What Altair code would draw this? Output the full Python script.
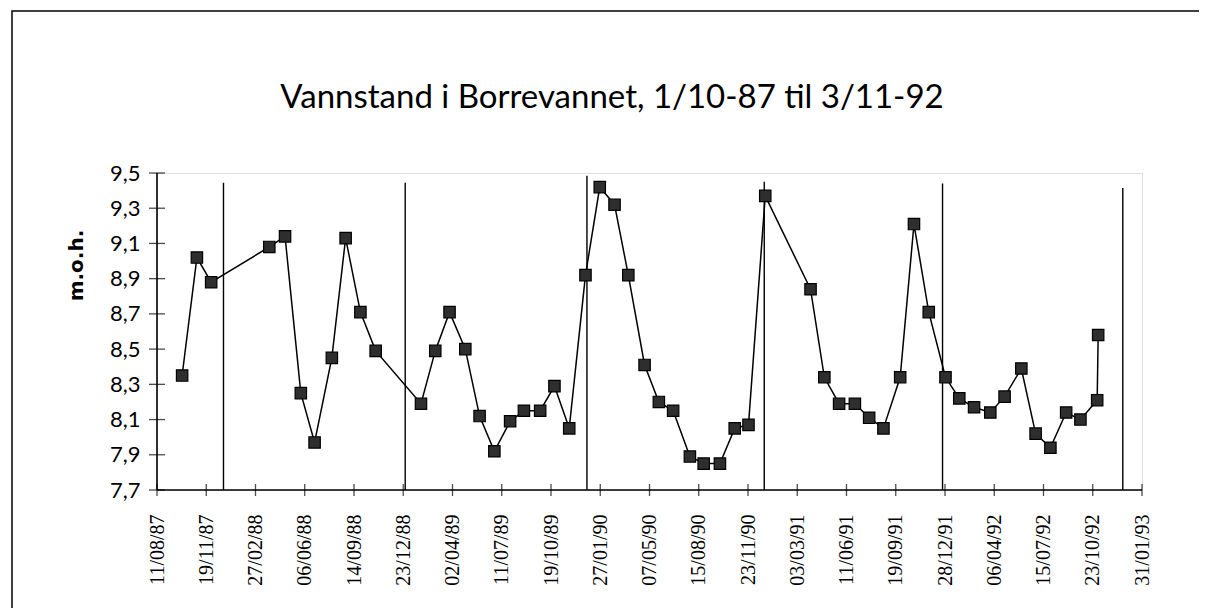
import altair as alt
import pandas as pd

# ---- data ----
dates = ["1987-10-01", "1987-10-31", "1987-11-29", "1988-03-26", "1988-04-27", "1988-05-29",
         "1988-06-26", "1988-07-31", "1988-08-28", "1988-09-27", "1988-10-28", "1989-01-28",
         "1989-02-26", "1989-03-27", "1989-04-28", "1989-05-27", "1989-06-26", "1989-07-28",
         "1989-08-25", "1989-09-27", "1989-10-26", "1989-11-25", "1989-12-28", "1990-01-26",
         "1990-02-25", "1990-03-25", "1990-04-27", "1990-05-26", "1990-06-24", "1990-07-28",
         "1990-08-25", "1990-09-27", "1990-10-27", "1990-11-24", "1990-12-28", "1991-03-30",
         "1991-04-27", "1991-05-27", "1991-06-28", "1991-07-27", "1991-08-25", "1991-09-28",
         "1991-10-26", "1991-11-25", "1991-12-29", "1992-01-26", "1992-02-25", "1992-03-29",
         "1992-04-27", "1992-05-31", "1992-06-29", "1992-07-29", "1992-08-30", "1992-09-28",
         "1992-11-01", "1992-11-03"]
levels = [8.35, 9.02, 8.88, 9.08, 9.14, 8.25, 7.97, 8.45, 9.13, 8.71, 8.49, 8.19,
          8.49, 8.71, 8.50, 8.12, 7.92, 8.09, 8.15, 8.15, 8.29, 8.05, 8.92, 9.42,
          9.32, 8.92, 8.41, 8.20, 8.15, 7.89, 7.85, 7.85, 8.05, 8.07, 9.37, 8.84,
          8.34, 8.19, 8.19, 8.11, 8.05, 8.34, 9.21, 8.71, 8.34, 8.22, 8.17, 8.14,
          8.23, 8.39, 8.02, 7.94, 8.14, 8.10, 8.21, 8.58]

# hand-drawn year separators
sep_dates = ["1987-12-24", "1988-12-27", "1989-12-31", "1990-12-26", "1991-12-23", "1992-12-23"]
sep_tops = [9.445, 9.445, 9.485, 9.45, 9.44, 9.415]

x_ticks = ["1987-08-11", "1987-11-19", "1988-02-27", "1988-06-06", "1988-09-14", "1988-12-23",
           "1989-04-02", "1989-07-11", "1989-10-19", "1990-01-27", "1990-05-07", "1990-08-15",
           "1990-11-23", "1991-03-03", "1991-06-11", "1991-09-19", "1991-12-28", "1992-04-06",
           "1992-07-15", "1992-10-23", "1993-01-31"]
y_ticks = [7.7, 7.9, 8.1, 8.3, 8.5, 8.7, 8.9, 9.1, 9.3, 9.5]

title_text = "Vannstand i Borrevannet, 1/10-87 til 3/11-92"
y_title = "m.o.h."

x_min, x_max = x_ticks[0], x_ticks[-1]
y_min, y_max = y_ticks[0], y_ticks[-1]

df = pd.DataFrame({"date": dates, "level": levels, "order": list(range(len(dates)))})
seps = pd.DataFrame({"date": sep_dates, "top": sep_tops, "bottom": [y_min] * len(sep_dates)})
xt = pd.DataFrame({"date": x_ticks, "y": [y_min] * len(x_ticks)})
yt = pd.DataFrame({"date": [x_min] * len(y_ticks), "v": y_ticks})

def dt(s):
    y, m, d = (int(v) for v in s.split("-"))
    return alt.DateTime(year=y, month=m, date=d, utc=True)

xscale = alt.Scale(type="utc", domain=[dt(x_min), dt(x_max)], nice=False)
yscale = alt.Scale(domain=[y_min, y_max], nice=False, zero=False)

SERIF = "Liberation Serif, DejaVu Serif, serif"

x_axis = alt.Axis(
    values=[dt(s) for s in x_ticks], labelExpr="utcFormat(datum.value, '%d/%m/%y')",
    labelAngle=270, labelAlign="right", labelBaseline="middle",
    labelFont=SERIF, labelFontSize=20, labelColor="black",
    labelPadding=24, ticks=False, tickSize=0,
    domain=False, grid=False, title=None, labelOverlap=False, labelFlush=False)
y_axis = alt.Axis(
    values=y_ticks, labelExpr="replace(format(datum.value, '.1f'), '.', ',')",
    labelFont="Lato", labelFontSize=22, labelColor="black", labelPadding=17,
    ticks=False, tickSize=0, labelOverlap=False, labelFlush=False,
    domain=False, grid=False, title=y_title, titleFont="DejaVu Sans",
    titleFontSize=20, titleFontWeight="bold", titleColor="black",
    titleAngle=270, titleX=-75, titleY=92, titleAlign="center",
    titleBaseline="alphabetic")

def X(field):
    return alt.X(field, scale=xscale, axis=x_axis)

def Y(field):
    return alt.Y(field, scale=yscale, axis=y_axis)

one = alt.Data(values=[{"k": 1}])
frame = alt.Chart(one).mark_rect(
    fill=None, stroke="black", strokeWidth=1.5, clip=False).encode(
    x=alt.value(-145), x2=alt.value(1100), y=alt.value(-162), y2=alt.value(480))
title = alt.Chart(one).mark_text(
    text=title_text, font="Lato", fontSize=33, color="black",
    align="center", baseline="alphabetic").encode(x=alt.value(455), y=alt.value(-65))

x_domain = alt.Chart(pd.DataFrame({"a": [x_min], "b": [x_max], "y": [y_min]})).mark_rule(
    color="black", strokeWidth=1.6).encode(x=X("a:T"), x2="b:T", y=Y("y:Q"))
y_domain = alt.Chart(pd.DataFrame({"x": [x_min], "a": [y_min], "b": [y_max]})).mark_rule(
    color="black", strokeWidth=1.6).encode(x=X("x:T"), y=Y("a:Q"), y2="b:Q")
x_tick_marks = alt.Chart(xt).mark_tick(color="black", size=12, thickness=1.3,
                                       orient="vertical").encode(x=X("date:T"), y=Y("y:Q"))
y_tick_marks = alt.Chart(yt).mark_tick(color="black", size=16, thickness=1.3,
                                       orient="horizontal").encode(x=X("date:T"), y=Y("v:Q"))

sep_rules = alt.Chart(seps).mark_rule(color="black", strokeWidth=1.4).encode(
    x=X("date:T"), y=Y("bottom:Q"), y2="top:Q")

line = alt.Chart(df).mark_line(color="black", strokeWidth=1.5).encode(
    x=X("date:T"), y=Y("level:Q"), order="order:Q")
pts = alt.Chart(df).mark_point(shape="square", size=130, filled=True, fill="#2e2e2e",
                               stroke="black", strokeWidth=1.2, opacity=1).encode(
    x=X("date:T"), y=Y("level:Q"))

chart = alt.layer(line, frame, title, sep_rules, pts, x_domain, y_domain,
                  x_tick_marks, y_tick_marks).properties(
    width=985, height=317,
    autosize=alt.AutoSizeParams(type="none"),
    padding={"left": 149, "top": 165, "right": 57, "bottom": 118},
).configure_view(stroke=None).configure(background="white").configure_axisX(
    labelFont=SERIF, labelFontSize=20).configure_axisY(labelFont="Lato")

chart.save("out.html", embed_options={"renderer": "svg", "actions": False})
